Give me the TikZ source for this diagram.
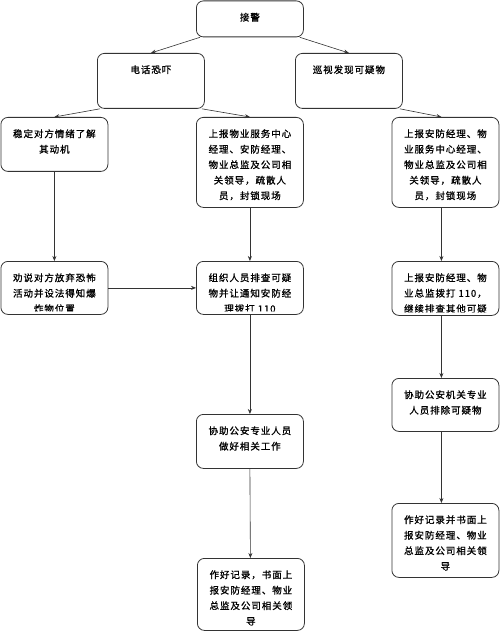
\documentclass[tikz,border=0pt]{standalone}
\usepackage{fontspec}
\usepackage{tikz}
\usetikzlibrary{arrows.meta}
\newfontfamily\cjk[LetterSpace=10, FakeBold=1]{Noto Sans CJK SC}

\begin{document}
\begin{tikzpicture}[x=1pt, y=-1pt,
  box/.style={draw=black!80, rounded corners=7pt, line width=0.8pt, anchor=north west,
              minimum width=107pt, inner sep=0pt},
  boxtext/.style={path picture={
      \clip ([yshift=3pt]path picture bounding box.south west) rectangle (path picture bounding box.north east);
      \node[draw=none, rounded corners=0pt, minimum width=0pt, minimum height=0pt,
            font=\cjk\fontsize{9.5}{15.5}\selectfont, align=center, anchor=north, inner sep=0pt]
        at ([yshift=-11.5pt]path picture bounding box.north) {#1};}},
  link/.style={-{Stealth[length=5pt,width=4pt]}, draw=black!80, line width=0.6pt}]

  \useasboundingbox[fill=white] (0,0) rectangle (500,631);

  % top
  \node[box, minimum height=36pt, boxtext={接警}] (alarm) at (196,0.5) {};
  \node[box, minimum height=55pt, boxtext={电话恐吓}] (call) at (97,53) {};
  \node[box, minimum height=55pt, boxtext={巡视发现可疑物}] (patrol) at (295,53) {};

  % left column
  \node[box, minimum height=54pt, boxtext={稳定对方情绪了解\\其动机}] (calm) at (0.5,117) {};
  \node[box, minimum height=53pt, boxtext={劝说对方放弃恐怖\\活动并设法得知爆\\炸物位置}] (persuade) at (0.5,261) {};

  % middle column
  \node[box, minimum height=90pt, boxtext={上报物业服务中心\\经理、安防经理、\\物业总监及公司相\\关领导，疏散人\\员，封锁现场}] (report) at (196,117) {};
  \node[box, minimum height=53pt, boxtext={组织人员排查可疑\\物并让通知安防经\\理拨打 110}] (search) at (196,261) {};
  \node[box, minimum height=54pt, boxtext={协助公安专业人员\\做好相关工作}] (assist) at (196,414) {};
  \node[box, minimum height=72pt, boxtext={作好记录，书面上\\报安防经理、物业\\总监及公司相关领\\导}] (record) at (197,558) {};

  % right column
  \node[box, minimum height=90pt, boxtext={上报安防经理、物\\业服务中心经理、\\物业总监及公司相\\关领导，疏散人\\员，封锁现场}] (reportr) at (391.5,117) {};
  \node[box, minimum height=54pt, boxtext={上报安防经理、物\\业总监拨打 110，\\继续排查其他可疑\\物}] (police) at (391.5,261) {};
  \node[box, minimum height=53pt, boxtext={协助公安机关专业\\人员排除可疑物}] (remove) at (391.5,378) {};
  \node[box, minimum height=74pt, boxtext={作好记录并书面上\\报安防经理、物业\\总监及公司相关领\\导}] (recordr) at (391.5,503) {};

  % connectors
  \draw[link] ([xshift=4pt]alarm.south west) -- (call.north);
  \draw[link] ([xshift=-4pt]alarm.south east) -- (patrol.north);
  \draw[link] ([xshift=3pt]call.south west) -- (calm.north);
  \draw[link] ([xshift=-3pt]call.south east) -- (report.north);
  \draw[link] ([xshift=-3pt]patrol.south east) -- ([xshift=-4pt]reportr.north);

  \draw[link] (calm.south) -- (persuade.north);
  \draw[link] (persuade.east) -- (search.west);

  \draw[link] (report.south) -- (search.north);
  \draw[link] (search.south) -- (assist.north);
  \draw[link] (assist.south) -- ([xshift=-0.5pt]record.north);

  \draw[link] ([xshift=-4pt]reportr.south) -- ([xshift=-4pt]police.north);
  \draw[link] ([xshift=-4pt]police.south) -- ([xshift=-4pt]remove.north);
  \draw[link] ([xshift=-4pt]remove.south) -- ([xshift=-4pt]recordr.north);
\end{tikzpicture}
\end{document}
